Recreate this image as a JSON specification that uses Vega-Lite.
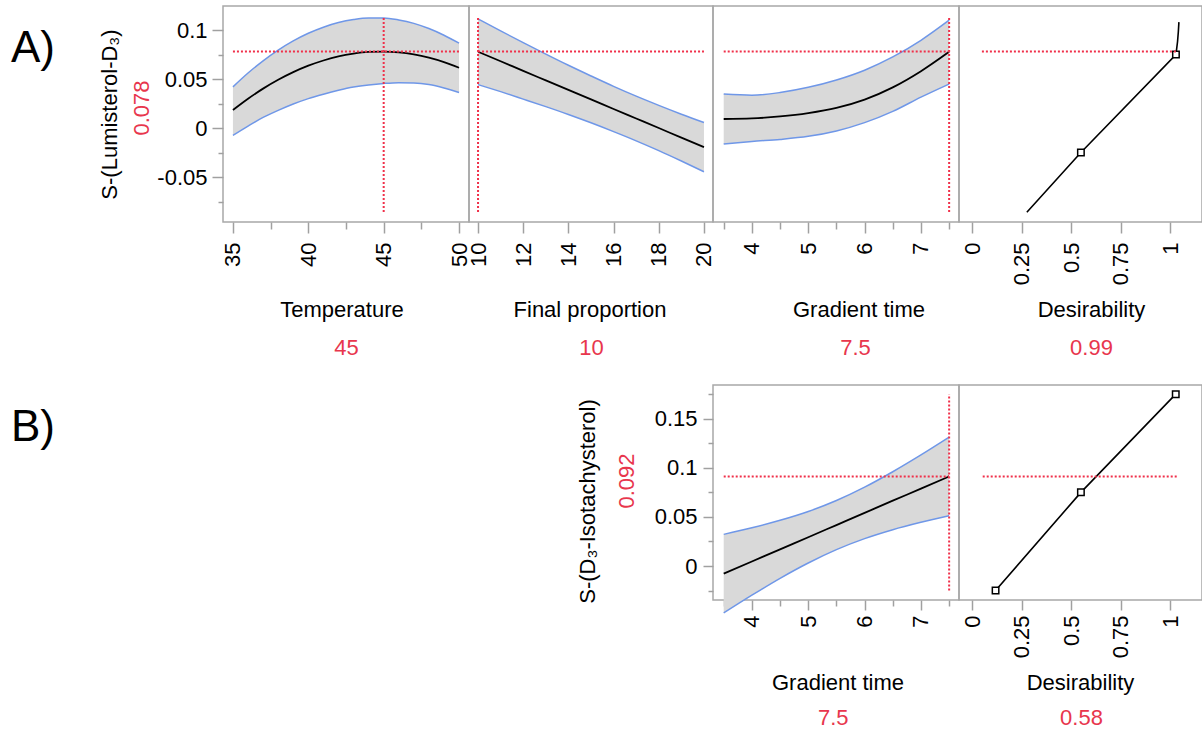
{
  "$schema": "https://vega.github.io/schema/vega-lite/v6.json",
  "padding": {"left": 11, "top": 5, "right": 0, "bottom": 0},
  "autosize": {"type": "pad"},
  "spacing": 25,
  "datasets": {
    "p1": [
      {"x": 35, "m": 0.0184, "lo": -0.0075, "hi": 0.0420},
      {"x": 36, "m": 0.0299, "lo": 0.0020, "hi": 0.0561},
      {"x": 37, "m": 0.0402, "lo": 0.0108, "hi": 0.0686},
      {"x": 38, "m": 0.0492, "lo": 0.0180, "hi": 0.0795},
      {"x": 39, "m": 0.0570, "lo": 0.0245, "hi": 0.0889},
      {"x": 40, "m": 0.0636, "lo": 0.0300, "hi": 0.0967},
      {"x": 41, "m": 0.0689, "lo": 0.0345, "hi": 0.1029},
      {"x": 42, "m": 0.0731, "lo": 0.0385, "hi": 0.1076},
      {"x": 43, "m": 0.0759, "lo": 0.0418, "hi": 0.1107},
      {"x": 44, "m": 0.0776, "lo": 0.0440, "hi": 0.1123},
      {"x": 45, "m": 0.0780, "lo": 0.0455, "hi": 0.1123},
      {"x": 46, "m": 0.0772, "lo": 0.0463, "hi": 0.1103},
      {"x": 47, "m": 0.0751, "lo": 0.0460, "hi": 0.1068},
      {"x": 48, "m": 0.0718, "lo": 0.0443, "hi": 0.1015},
      {"x": 49, "m": 0.0673, "lo": 0.0408, "hi": 0.0947},
      {"x": 50, "m": 0.0615, "lo": 0.0362, "hi": 0.0866}
    ],
    "p2": [
      {"x": 10, "m": 0.0778, "lo": 0.0443, "hi": 0.1113},
      {"x": 11, "m": 0.0681, "lo": 0.0371, "hi": 0.0991},
      {"x": 12, "m": 0.0583, "lo": 0.0295, "hi": 0.0871},
      {"x": 13, "m": 0.0486, "lo": 0.0218, "hi": 0.0754},
      {"x": 14, "m": 0.0389, "lo": 0.0138, "hi": 0.0640},
      {"x": 15, "m": 0.0292, "lo": 0.0053, "hi": 0.0531},
      {"x": 16, "m": 0.0194, "lo": -0.0037, "hi": 0.0425},
      {"x": 17, "m": 0.0097, "lo": -0.0131, "hi": 0.0325},
      {"x": 18, "m": 0.0000, "lo": -0.0231, "hi": 0.0231},
      {"x": 19, "m": -0.0098, "lo": -0.0337, "hi": 0.0141},
      {"x": 20, "m": -0.0195, "lo": -0.0446, "hi": 0.0056}
    ],
    "p3": [
      {"x": 3.5, "m": 0.0092, "lo": -0.0163, "hi": 0.0346},
      {"x": 4.0, "m": 0.0098, "lo": -0.0137, "hi": 0.0335},
      {"x": 4.5, "m": 0.0118, "lo": -0.0116, "hi": 0.0362},
      {"x": 5.0, "m": 0.0152, "lo": -0.0085, "hi": 0.0415},
      {"x": 5.5, "m": 0.0205, "lo": -0.0030, "hi": 0.0490},
      {"x": 6.0, "m": 0.0290, "lo": 0.0055, "hi": 0.0590},
      {"x": 6.5, "m": 0.0415, "lo": 0.0170, "hi": 0.0725},
      {"x": 7.0, "m": 0.0580, "lo": 0.0315, "hi": 0.0895},
      {"x": 7.5, "m": 0.0778, "lo": 0.0449, "hi": 0.1100}
    ],
    "q3": [
      {"x": 3.5, "m": -0.0078, "lo": -0.0478, "hi": 0.0322},
      {"x": 4.0, "m": 0.0046, "lo": -0.0297, "hi": 0.0389},
      {"x": 4.5, "m": 0.0170, "lo": -0.0125, "hi": 0.0465},
      {"x": 5.0, "m": 0.0293, "lo": 0.0031, "hi": 0.0555},
      {"x": 5.5, "m": 0.0417, "lo": 0.0167, "hi": 0.0667},
      {"x": 6.0, "m": 0.0541, "lo": 0.0279, "hi": 0.0803},
      {"x": 6.5, "m": 0.0665, "lo": 0.0370, "hi": 0.0960},
      {"x": 7.0, "m": 0.0788, "lo": 0.0445, "hi": 0.1131},
      {"x": 7.5, "m": 0.0912, "lo": 0.0512, "hi": 0.1312}
    ],
    "d1": [
      {"d": 0.277, "y": -0.086},
      {"d": 0.55, "y": -0.025},
      {"d": 1.03, "y": 0.075},
      {"d": 1.038, "y": 0.088},
      {"d": 1.042, "y": 0.098},
      {"d": 1.045, "y": 0.108}
    ],
    "d1pts": [
      {"d": 0.55, "y": -0.025},
      {"d": 1.03, "y": 0.075}
    ],
    "d2": [
      {"d": 0.119, "y": -0.025},
      {"d": 0.55, "y": 0.075},
      {"d": 1.029, "y": 0.175}
    ],
    "r1": [
      {"x": 35, "x2": 50, "y": 0.078, "y2": 0.078},
      {"x": 45, "x2": 45, "y": -0.0857, "y2": 0.1133}
    ],
    "r2": [
      {"x": 10, "x2": 20, "y": 0.078, "y2": 0.078},
      {"x": 10, "x2": 10, "y": -0.0857, "y2": 0.1133}
    ],
    "r3": [
      {"x": 3.5, "x2": 7.5, "y": 0.078, "y2": 0.078},
      {"x": 7.5, "x2": 7.5, "y": -0.0857, "y2": 0.1133}
    ],
    "r4": [
      {"x": 0.05, "x2": 1.04, "y": 0.078, "y2": 0.078}
    ],
    "s3": [
      {"x": 3.5, "x2": 7.5, "y": 0.0912, "y2": 0.0912},
      {"x": 7.5, "x2": 7.5, "y": -0.025, "y2": 0.175}
    ],
    "s4": [
      {"x": 0.054, "x2": 1.036, "y": 0.0912, "y2": 0.0912}
    ]
  },
  "vconcat": [
    {
      "hconcat": [
        {
          "width": 124, "height": 216,
          "data": {"values": []},
          "mark": "point",
          "view": {"stroke": null},
          "title": {"text": "A)", "orient": "left", "anchor": "end", "frame": "group", "angle": 0, "align": "right", "baseline": "alphabetic", "dy": 56, "offset": 0, "fontSize": 44, "fontWeight": "normal", "color": "#000000"}
        },
        {
          "width": 246, "height": 216,
          "data": {"name": "p1"},
          "layer": [
            {
              "mark": {"type": "area", "fill": "#d9d9d9", "interpolate": "monotone"},
              "encoding": {
                "x": {"field": "x", "type": "quantitative", "scale": {"domain": [34.34, 50.66], "nice": false, "zero": false},
                  "axis": {"orient": "bottom", "values": [35, 40, 45, 50], "labelExpr": "format(datum.value,'~g')", "tickSize": 11, "labelPadding": 9, "title": "Temperature", "titleX": 118.5, "titleY": 94}},
                "y": {"field": "lo", "type": "quantitative", "scale": {"domain": [-0.0959, 0.1245], "nice": false, "zero": false},
                  "axis": {"orient": "left", "values": [0.1, 0.05, 0, -0.05], "labelExpr": "datum.value < 0 ? '-' + format(-datum.value,'~g') : format(datum.value,'~g')", "tickSize": 11, "labelPadding": 5, "title": "S-(Lumisterol-D₃)", "titleAngle": 270, "titleX": -107, "titleY": 108}},
                "y2": {"field": "hi"}
              }
            },
            {
              "mark": {"type": "line", "stroke": "#6f97e8", "strokeWidth": 1.5, "interpolate": "monotone"},
              "encoding": {"x": {"field": "x", "type": "quantitative", "axis": null}, "y": {"field": "hi", "type": "quantitative", "axis": null}}
            },
            {
              "mark": {"type": "line", "stroke": "#6f97e8", "strokeWidth": 1.5, "interpolate": "monotone"},
              "encoding": {"x": {"field": "x", "type": "quantitative", "axis": null}, "y": {"field": "lo", "type": "quantitative", "axis": null}}
            },
            {
              "mark": {"type": "line", "stroke": "#000000", "strokeWidth": 1.8, "interpolate": "monotone"},
              "encoding": {"x": {"field": "x", "type": "quantitative", "axis": null}, "y": {"field": "m", "type": "quantitative", "axis": null}}
            },
            {
              "data": {"name": "r1"},
              "mark": {"type": "rule", "stroke": "#f0304a", "strokeWidth": 2, "strokeDash": [2, 2]},
              "encoding": {
                "x": {"field": "x", "type": "quantitative", "axis": {"orient": "bottom", "values": [37.5, 42.5, 47.5], "labels": false, "tickSize": 7, "title": "45", "titleColor": "#e8364d", "titleX": 123, "titleY": 132}},
                "x2": {"field": "x2"},
                "y": {"field": "y", "type": "quantitative", "axis": {"orient": "left", "values": [0.075, 0.025, -0.025, -0.075], "labels": false, "tickSize": 5, "title": "0.078", "titleColor": "#e8364d", "titleAngle": 270, "titleX": -75, "titleY": 101.5}},
                "y2": {"field": "y2"}
              }
            }
          ],
          "resolve": {"axis": {"x": "independent", "y": "independent"}}
        },
        {
          "width": 244, "height": 216,
          "data": {"name": "p2"},
          "layer": [
            {
              "mark": {"type": "area", "fill": "#d9d9d9", "interpolate": "monotone"},
              "encoding": {
                "x": {"field": "x", "type": "quantitative", "scale": {"domain": [9.6, 20.4], "nice": false, "zero": false},
                  "axis": {"orient": "bottom", "values": [10, 12, 14, 16, 18, 20], "labelExpr": "format(datum.value,'~g')", "tickSize": 11, "labelPadding": 9, "title": "Final proportion", "titleX": 120.5, "titleY": 94}},
                "y": {"field": "lo", "type": "quantitative", "scale": {"domain": [-0.0959, 0.1245], "nice": false, "zero": false}, "axis": null},
                "y2": {"field": "hi"}
              }
            },
            {
              "mark": {"type": "line", "stroke": "#6f97e8", "strokeWidth": 1.5, "interpolate": "monotone"},
              "encoding": {"x": {"field": "x", "type": "quantitative", "axis": null}, "y": {"field": "hi", "type": "quantitative", "axis": null}}
            },
            {
              "mark": {"type": "line", "stroke": "#6f97e8", "strokeWidth": 1.5, "interpolate": "monotone"},
              "encoding": {"x": {"field": "x", "type": "quantitative", "axis": null}, "y": {"field": "lo", "type": "quantitative", "axis": null}}
            },
            {
              "mark": {"type": "line", "stroke": "#000000", "strokeWidth": 1.8, "interpolate": "monotone"},
              "encoding": {"x": {"field": "x", "type": "quantitative", "axis": null}, "y": {"field": "m", "type": "quantitative", "axis": null}}
            },
            {
              "data": {"name": "r2"},
              "mark": {"type": "rule", "stroke": "#f0304a", "strokeWidth": 2, "strokeDash": [2, 2]},
              "encoding": {
                "x": {"field": "x", "type": "quantitative", "axis": {"orient": "bottom", "ticks": false, "labels": false, "title": "10", "titleColor": "#e8364d", "titleX": 122, "titleY": 132}},
                "x2": {"field": "x2"},
                "y": {"field": "y", "type": "quantitative", "axis": null},
                "y2": {"field": "y2"}
              }
            }
          ],
          "resolve": {"axis": {"x": "independent"}}
        },
        {
          "width": 246, "height": 216,
          "data": {"name": "p3"},
          "layer": [
            {
              "mark": {"type": "area", "fill": "#d9d9d9", "interpolate": "monotone"},
              "encoding": {
                "x": {"field": "x", "type": "quantitative", "scale": {"domain": [3.31, 7.675], "nice": false, "zero": false},
                  "axis": {"orient": "bottom", "values": [4, 5, 6, 7], "labelExpr": "format(datum.value,'~g')", "tickSize": 11, "labelPadding": 9, "title": "Gradient time", "titleX": 145.5, "titleY": 94}},
                "y": {"field": "lo", "type": "quantitative", "scale": {"domain": [-0.0959, 0.1245], "nice": false, "zero": false}, "axis": null},
                "y2": {"field": "hi"}
              }
            },
            {
              "mark": {"type": "line", "stroke": "#6f97e8", "strokeWidth": 1.5, "interpolate": "monotone"},
              "encoding": {"x": {"field": "x", "type": "quantitative", "axis": null}, "y": {"field": "hi", "type": "quantitative", "axis": null}}
            },
            {
              "mark": {"type": "line", "stroke": "#6f97e8", "strokeWidth": 1.5, "interpolate": "monotone"},
              "encoding": {"x": {"field": "x", "type": "quantitative", "axis": null}, "y": {"field": "lo", "type": "quantitative", "axis": null}}
            },
            {
              "mark": {"type": "line", "stroke": "#000000", "strokeWidth": 1.8, "interpolate": "monotone"},
              "encoding": {"x": {"field": "x", "type": "quantitative", "axis": null}, "y": {"field": "m", "type": "quantitative", "axis": null}}
            },
            {
              "data": {"name": "r3"},
              "mark": {"type": "rule", "stroke": "#f0304a", "strokeWidth": 2, "strokeDash": [2, 2]},
              "encoding": {
                "x": {"field": "x", "type": "quantitative", "axis": {"orient": "bottom", "values": [3.5, 4.5, 5.5, 6.5, 7.5], "labels": false, "tickSize": 7, "title": "7.5", "titleColor": "#e8364d", "titleX": 142, "titleY": 132}},
                "x2": {"field": "x2"},
                "y": {"field": "y", "type": "quantitative", "axis": null},
                "y2": {"field": "y2"}
              }
            }
          ],
          "resolve": {"axis": {"x": "independent"}}
        },
        {
          "width": 243, "height": 216,
          "layer": [
            {
              "data": {"name": "d1"},
              "mark": {"type": "line", "stroke": "#000000", "strokeWidth": 1.6},
              "encoding": {
                "x": {"field": "d", "type": "quantitative", "scale": {"domain": [-0.0657, 1.1616], "nice": false, "zero": false},
                  "axis": {"orient": "bottom", "values": [0, 0.25, 0.5, 0.75, 1], "labelExpr": "format(datum.value,'~g')", "tickSize": 11, "labelPadding": 9, "title": "Desirability", "titleX": 132, "titleY": 94}},
                "y": {"field": "y", "type": "quantitative", "scale": {"domain": [-0.0959, 0.1245], "nice": false, "zero": false}, "axis": null}
              }
            },
            {
              "data": {"name": "d1pts"},
              "mark": {"type": "point", "shape": "square", "size": 42, "filled": true, "fill": "#ffffff", "stroke": "#000000", "strokeWidth": 1.5, "opacity": 1},
              "encoding": {
                "x": {"field": "d", "type": "quantitative", "axis": null},
                "y": {"field": "y", "type": "quantitative", "axis": null}
              }
            },
            {
              "data": {"name": "r4"},
              "mark": {"type": "rule", "stroke": "#f0304a", "strokeWidth": 2, "strokeDash": [2, 2]},
              "encoding": {
                "x": {"field": "x", "type": "quantitative", "axis": {"orient": "bottom", "ticks": false, "labels": false, "title": "0.99", "titleColor": "#e8364d", "titleX": 132, "titleY": 132}},
                "x2": {"field": "x2"},
                "y": {"field": "y", "type": "quantitative", "axis": null},
                "y2": {"field": "y2"}
              }
            }
          ],
          "resolve": {"axis": {"x": "independent"}}
        }
      ],
      "spacing": 0,
      "bounds": "flush"
    },
    {
      "hconcat": [
        {
          "width": 614, "height": 215,
          "data": {"values": []},
          "mark": "point",
          "view": {"stroke": null},
          "title": {"text": "B)", "orient": "left", "anchor": "end", "frame": "group", "angle": 0, "align": "right", "baseline": "alphabetic", "dy": 56, "offset": 0, "fontSize": 44, "fontWeight": "normal", "color": "#000000"}
        },
        {
          "width": 246, "height": 215,
          "data": {"name": "q3"},
          "layer": [
            {
              "mark": {"type": "area", "fill": "#d9d9d9", "interpolate": "monotone"},
              "encoding": {
                "x": {"field": "x", "type": "quantitative", "scale": {"domain": [3.31, 7.675], "nice": false, "zero": false},
                  "axis": {"orient": "bottom", "values": [4, 5, 6, 7], "labelExpr": "format(datum.value,'~g')", "tickSize": 10, "labelPadding": 5, "title": "Gradient time", "titleX": 124.5, "titleY": 89}},
                "y": {"field": "lo", "type": "quantitative", "scale": {"domain": [-0.0346, 0.1843], "nice": false, "zero": false},
                  "axis": {"orient": "left", "values": [0.15, 0.1, 0.05, 0], "labelExpr": "datum.value < 0 ? '-' + format(-datum.value,'~g') : format(datum.value,'~g')", "tickSize": 10, "labelPadding": 6, "title": "S-(D₃-Isotachysterol)", "titleAngle": 270, "titleX": -119, "titleY": 116}},
                "y2": {"field": "hi"}
              }
            },
            {
              "mark": {"type": "line", "stroke": "#6f97e8", "strokeWidth": 1.5, "interpolate": "monotone"},
              "encoding": {"x": {"field": "x", "type": "quantitative", "axis": null}, "y": {"field": "hi", "type": "quantitative", "axis": null}}
            },
            {
              "mark": {"type": "line", "stroke": "#6f97e8", "strokeWidth": 1.5, "interpolate": "monotone"},
              "encoding": {"x": {"field": "x", "type": "quantitative", "axis": null}, "y": {"field": "lo", "type": "quantitative", "axis": null}}
            },
            {
              "mark": {"type": "line", "stroke": "#000000", "strokeWidth": 1.8, "interpolate": "monotone"},
              "encoding": {"x": {"field": "x", "type": "quantitative", "axis": null}, "y": {"field": "m", "type": "quantitative", "axis": null}}
            },
            {
              "data": {"name": "s3"},
              "mark": {"type": "rule", "stroke": "#f0304a", "strokeWidth": 2, "strokeDash": [2, 2]},
              "encoding": {
                "x": {"field": "x", "type": "quantitative", "axis": {"orient": "bottom", "values": [3.5, 4.5, 5.5, 6.5, 7.5], "labels": false, "tickSize": 6, "title": "7.5", "titleColor": "#e8364d", "titleX": 119.7, "titleY": 124}},
                "x2": {"field": "x2"},
                "y": {"field": "y", "type": "quantitative", "axis": {"orient": "left", "values": [0.175, 0.125, 0.075, 0.025, -0.025], "labels": false, "tickSize": 5, "title": "0.092", "titleColor": "#e8364d", "titleAngle": 270, "titleX": -80, "titleY": 95.5}},
                "y2": {"field": "y2"}
              }
            }
          ],
          "resolve": {"axis": {"x": "independent", "y": "independent"}}
        },
        {
          "width": 243, "height": 215,
          "layer": [
            {
              "data": {"name": "d2"},
              "mark": {"type": "line", "stroke": "#000000", "strokeWidth": 1.6},
              "encoding": {
                "x": {"field": "d", "type": "quantitative", "scale": {"domain": [-0.0657, 1.1616], "nice": false, "zero": false},
                  "axis": {"orient": "bottom", "values": [0, 0.25, 0.5, 0.75, 1], "labelExpr": "format(datum.value,'~g')", "tickSize": 10, "labelPadding": 5, "title": "Desirability", "titleX": 121, "titleY": 89}},
                "y": {"field": "y", "type": "quantitative", "scale": {"domain": [-0.0346, 0.1843], "nice": false, "zero": false}, "axis": null}
              }
            },
            {
              "data": {"name": "d2"},
              "mark": {"type": "point", "shape": "square", "size": 42, "filled": true, "fill": "#ffffff", "stroke": "#000000", "strokeWidth": 1.5, "opacity": 1},
              "encoding": {
                "x": {"field": "d", "type": "quantitative", "axis": null},
                "y": {"field": "y", "type": "quantitative", "axis": null}
              }
            },
            {
              "data": {"name": "s4"},
              "mark": {"type": "rule", "stroke": "#f0304a", "strokeWidth": 2, "strokeDash": [2, 2]},
              "encoding": {
                "x": {"field": "x", "type": "quantitative", "axis": {"orient": "bottom", "ticks": false, "labels": false, "title": "0.58", "titleColor": "#e8364d", "titleX": 122, "titleY": 124}},
                "x2": {"field": "x2"},
                "y": {"field": "y", "type": "quantitative", "axis": null},
                "y2": {"field": "y2"}
              }
            }
          ],
          "resolve": {"axis": {"x": "independent"}}
        }
      ],
      "spacing": 0,
      "bounds": "flush"
    }
  ],
  "config": {
    "font": "Liberation Sans",
    "background": "#ffffff",
    "view": {"stroke": "#a8a8a8", "strokeWidth": 1.5},
    "axis": {
      "domain": false, "grid": false,
      "tickColor": "#a0a0a0", "tickWidth": 1.5,
      "labelFont": "Liberation Sans", "labelFontSize": 22, "labelColor": "#000000",
      "labelOverlap": false, "labelFlush": false, "labelBound": false,
      "titleFont": "Liberation Sans", "titleFontSize": 22, "titleFontWeight": "normal", "titleColor": "#000000",
      "titleBaseline": "alphabetic", "titleAlign": "center"
    },
    "axisBottom": {"labelAngle": 270},
    "title": {"font": "Liberation Sans"}
  }
}
